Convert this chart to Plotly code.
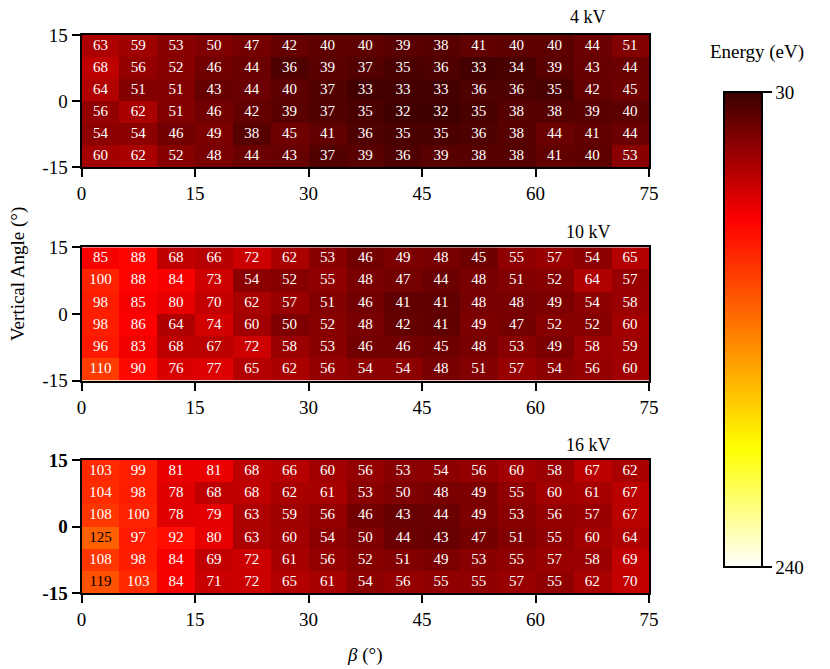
import plotly.graph_objects as go

# ---------------- data ----------------
beta_centers = [2.5, 7.5, 12.5, 17.5, 22.5, 27.5, 32.5, 37.5, 42.5, 47.5, 52.5, 57.5, 62.5, 67.5, 72.5]
vert_centers = [12.5, 7.5, 2.5, -2.5, -7.5, -12.5]   # top row first
x_ticks = [0, 15, 30, 45, 60, 75]
y_ticks = [-15, 0, 15]
y_tick_labels = ["-15", "0", "15"]
panel_titles = ["4 kV", "10 kV", "16 kV"]

energy_4kv = [
    [63, 59, 53, 50, 47, 42, 40, 40, 39, 38, 41, 40, 40, 44, 51],
    [68, 56, 52, 46, 44, 36, 39, 37, 35, 36, 33, 34, 39, 43, 44],
    [64, 51, 51, 43, 44, 40, 37, 33, 33, 33, 36, 36, 35, 42, 45],
    [56, 62, 51, 46, 42, 39, 37, 35, 32, 32, 35, 38, 38, 39, 40],
    [54, 54, 46, 49, 38, 45, 41, 36, 35, 35, 36, 38, 44, 41, 44],
    [60, 62, 52, 48, 44, 43, 37, 39, 36, 39, 38, 38, 41, 40, 53],
]
energy_10kv = [
    [85, 88, 68, 66, 72, 62, 53, 46, 49, 48, 45, 55, 57, 54, 65],
    [100, 88, 84, 73, 54, 52, 55, 48, 47, 44, 48, 51, 52, 64, 57],
    [98, 85, 80, 70, 62, 57, 51, 46, 41, 41, 48, 48, 49, 54, 58],
    [98, 86, 64, 74, 60, 50, 52, 48, 42, 41, 49, 47, 52, 52, 60],
    [96, 83, 68, 67, 72, 58, 53, 46, 46, 45, 48, 53, 49, 58, 59],
    [110, 90, 76, 77, 65, 62, 56, 54, 54, 48, 51, 57, 54, 56, 60],
]
energy_16kv = [
    [103, 99, 81, 81, 68, 66, 60, 56, 53, 54, 56, 60, 58, 67, 62],
    [104, 98, 78, 68, 68, 62, 61, 53, 50, 48, 49, 55, 60, 61, 67],
    [108, 100, 78, 79, 63, 59, 56, 46, 43, 44, 49, 53, 56, 57, 67],
    [125, 97, 92, 80, 63, 60, 54, 50, 44, 43, 47, 51, 55, 60, 64],
    [108, 98, 84, 69, 72, 61, 56, 52, 51, 49, 53, 55, 57, 58, 69],
    [119, 103, 84, 71, 72, 65, 61, 54, 56, 55, 55, 57, 55, 62, 70],
]
energy_min, energy_max = 30, 240

# ---------------- layout helpers ----------------
OFF = 8                      # page body margin
W, H = 830 - OFF, 669 - OFF
FONT = "Liberation Serif, Times New Roman, serif"

def fx(px):
    return (px - OFF) / W

def fy(py):
    return 1 - (py - OFF) / H

x_dom = [fx(81.5), fx(649)]
panel_pix = [(35, 167.3), (247.3, 380.7), (460, 593.3)]
title_pix_y = [17, 232, 445]

# colorscale: high energy -> white, low -> dark red (data negated so 30 is on top)
cscale = [[0.0, "#ffffff"], [0.25, "#ffff00"], [0.73, "#ff0000"], [1.0, "#3a0000"]]

fig = go.Figure()
datasets = [energy_4kv, energy_10kv, energy_16kv]

for i, data in enumerate(datasets):
    sfx = "" if i == 0 else str(i + 1)
    xa, ya = "x" + sfx, "y" + sfx
    neg = [[-v for v in row] for row in data]
    fig.add_trace(go.Heatmap(
        x=beta_centers, y=vert_centers, z=neg, customdata=data,
        coloraxis="coloraxis", xaxis=xa, yaxis=ya,
        hovertemplate="β=%{x}°, angle=%{y}°: %{customdata} eV<extra></extra>",
    ))
    xs, ys, txt, cols = [], [], [], []
    for r, yv in enumerate(vert_centers):
        for c, xv in enumerate(beta_centers):
            v = data[r][c]
            xs.append(xv)
            ys.append(yv)
            txt.append(str(v))
            cols.append("black" if v > 115 else "white")
    fig.add_trace(go.Scatter(
        x=xs, y=ys, text=txt, mode="text", xaxis=xa, yaxis=ya,
        textfont=dict(family=FONT, size=15, color=cols),
        hoverinfo="skip", showlegend=False,
    ))

    top, bot = panel_pix[i]
    axis_common = dict(showline=True, linewidth=2, linecolor="black", mirror=True,
                       ticks="outside", ticklen=8, tickwidth=2, tickcolor="black",
                       showgrid=False, zeroline=False, automargin=False)
    fig.layout["xaxis" + sfx] = dict(
        domain=x_dom, anchor=ya, range=[0, 75], tickvals=x_ticks,
        tickfont=dict(family=FONT, size=19, color="black"), **axis_common)
    fig.layout["yaxis" + sfx] = dict(
        domain=[fy(bot), fy(top)], anchor=xa, range=[-15, 15],
        tickvals=y_ticks, ticktext=y_tick_labels,
        tickfont=dict(family=FONT, size=19, color="black",
                      weight="bold" if i == 2 else "normal"),
        **axis_common)

annotations = []
for i, t in enumerate(panel_titles):
    annotations.append(dict(text=t, x=fx(588), y=fy(title_pix_y[i]), xref="paper", yref="paper",
                            showarrow=False, xanchor="center", yanchor="middle",
                            font=dict(family=FONT, size=18, color="black")))
annotations.append(dict(text="Vertical Angle (°)", x=fx(18), y=fy(274), xref="paper", yref="paper",
                        showarrow=False, textangle=-90, xanchor="center", yanchor="middle",
                        font=dict(family=FONT, size=19, color="black")))
annotations.append(dict(text="<i>β</i> (°)", x=fx(364), y=fy(655), xref="paper", yref="paper",
                        showarrow=False, xanchor="center", yanchor="middle",
                        font=dict(family=FONT, size=19, color="black")))
annotations.append(dict(text="Energy (eV)", x=fx(757), y=fy(52), xref="paper", yref="paper",
                        showarrow=False, xanchor="center", yanchor="middle",
                        font=dict(family=FONT, size=19, color="black")))

fig.update_layout(
    width=W, height=H,
    margin=dict(l=0, r=0, t=0, b=0),
    paper_bgcolor="white", plot_bgcolor="white",
    showlegend=False,
    annotations=annotations,
    coloraxis=dict(
        cmin=-energy_max, cmax=-energy_min, colorscale=cscale,
        colorbar=dict(
            x=fx(724), xanchor="left", y=fy(329.5), yanchor="middle",
            thickness=38, thicknessmode="pixels", len=475, lenmode="pixels",
            outlinewidth=2, outlinecolor="black",
            tickvals=[-energy_min, -energy_max], ticktext=[str(energy_min), str(energy_max)],
            ticks="outside", ticklen=9, tickwidth=2, tickcolor="black",
            tickfont=dict(family=FONT, size=19, color="black"),
            xpad=0, ypad=0,
        ),
    ),
)

fig.write_html("out.html")
